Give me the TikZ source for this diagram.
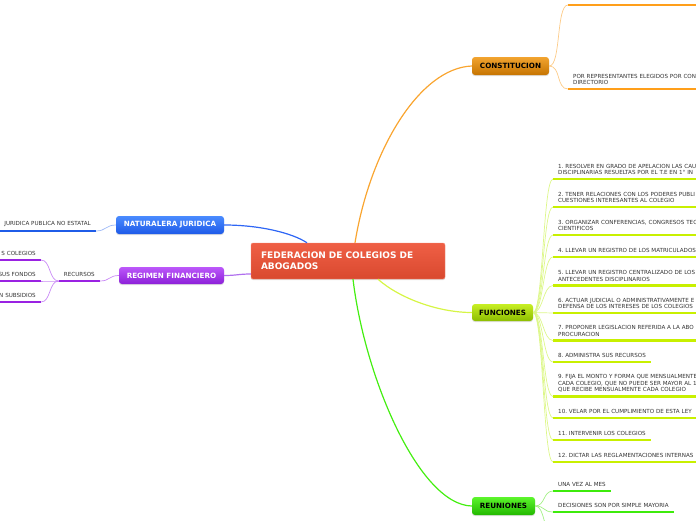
\documentclass[tikz,border=0pt]{standalone}
\usepackage{fontspec}
\setmainfont{DejaVu Sans}
\usetikzlibrary{shadows}

\definecolor{hubtop}{HTML}{EF5F45}
\definecolor{hubbot}{HTML}{D9492F}
\definecolor{hubline}{HTML}{F48A74}
\definecolor{constop}{HTML}{F2A430}
\definecolor{consbot}{HTML}{C67400}
\definecolor{consline}{HTML}{FF9F1A}
\definecolor{conslink}{HTML}{F9A530}
\definecolor{constwig}{HTML}{FCCB88}
\definecolor{nattop}{HTML}{4A8BFF}
\definecolor{natbot}{HTML}{1E5AE8}
\definecolor{natline}{HTML}{1F5CE8}
\definecolor{natlink}{HTML}{2E66F5}
\definecolor{nattwig}{HTML}{9DB8F7}
\definecolor{regtop}{HTML}{BC58FA}
\definecolor{regbot}{HTML}{8C20D8}
\definecolor{regline}{HTML}{9A22E2}
\definecolor{reglink}{HTML}{B070EE}
\definecolor{regtwig}{HTML}{C98AF5}
\definecolor{funtop}{HTML}{C8EF24}
\definecolor{funbot}{HTML}{8CBD00}
\definecolor{funline}{HTML}{C8F000}
\definecolor{funlink}{HTML}{D6F545}
\definecolor{funtwig}{HTML}{DDF78A}
\definecolor{reutop}{HTML}{5CF52C}
\definecolor{reubot}{HTML}{22B800}
\definecolor{reuline}{HTML}{3EEB0C}
\definecolor{reulink}{HTML}{44EE11}
\definecolor{reutwig}{HTML}{A2F084}
\definecolor{leafgray}{HTML}{333333}

\newcommand{\leaffont}{\fontsize{5.6}{6.3}\selectfont\frenchspacing}
\newcommand{\topicfont}{\fontsize{7.2}{8.5}\selectfont\bfseries}
\newcommand{\hubfont}{\fontsize{9}{11}\selectfont\bfseries}

\begin{document}
\begin{tikzpicture}[x=1pt,y=-1pt,
    hub/.style={rounded corners=2pt, top color=hubtop, bottom color=hubbot, draw=hubline, line width=0.4pt,
      text=white, font=\hubfont, align=left, text width=174pt, inner xsep=10pt, minimum height=36pt,
      drop shadow={opacity=0.25,shadow xshift=0pt,shadow yshift=-1.2pt}},
    topic/.style={rounded corners=3pt, inner sep=0pt, minimum height=18pt, font=\topicfont,
      drop shadow={opacity=0.25,shadow xshift=0pt,shadow yshift=-1.2pt}},
    leaf/.style={font=\leaffont, text=leafgray, align=left, anchor=south west,
      inner xsep=5pt, inner ysep=4pt},
    lleaf/.style={leaf, align=right, anchor=south east, text width=150pt},
    wide/.style={text width=300pt},
    under/.style={append after command={(\tikzlastnode.south west) edge[draw=#1, line width=2.4pt] (\tikzlastnode.south east)}},
    link/.style={draw=#1, line width=1.2pt},
    twig/.style={draw=#1, line width=0.7pt}]

    \path[use as bounding box] (0,0) rectangle (696,520);
    \clip (0,0) rectangle (696,520);

    \node[hub] (fed) at (348,261) {FEDERACION DE COLEGIOS DE\\ABOGADOS};

    \node[topic, minimum width=77pt, top color=constop, bottom color=consbot] (cons) at (510.5,66) {CONSTITUCION};
    \node[topic, minimum width=108pt, top color=nattop, bottom color=natbot, text=white] (nat) at (170,225) {NATURALERA JURIDICA};
    \node[topic, minimum width=105pt, minimum height=17pt, top color=regtop, bottom color=regbot, text=white] (reg) at (171.5,275.5) {REGIMEN FINANCIERO};
    \node[topic, minimum width=61pt, minimum height=17pt, top color=funtop, bottom color=funbot] (fun) at (502.5,312.5) {FUNCIONES};
    \node[topic, minimum width=63pt, top color=reutop, bottom color=reubot] (reu) at (503.5,506) {REUNIONES};

    \node[leaf, wide, under=consline] (c1) at (568,5) {};
    \node[leaf, wide, under=consline] (c2) at (568,89) {POR REPRESENTANTES ELEGIDOS POR CON\\DIRECTORIO};

    \node[lleaf, under=natline] (n1) at (96,231) {JURIDICA PUBLICA NO ESTATAL};

    \node[leaf, anchor=south east, under=regline] (rec) at (100,281) {RECURSOS};
    \node[lleaf, under=regline] (p1) at (41,260) {S COLEGIOS};
    \node[lleaf, under=regline] (p2) at (41,281) {SUS FONDOS};
    \node[lleaf, under=regline] (p3) at (41,302) {N SUBSIDIOS};

    \node[leaf, wide, under=funline] (f1) at (553,179) {1. RESOLVER EN GRADO DE APELACION LAS CAU\\DISCIPLINARIAS RESUELTAS POR EL T.E EN 1° IN};
    \node[leaf, wide, under=funline] (f2) at (553,207) {2. TENER RELACIONES CON LOS PODERES PUBLI\\CUESTIONES INTERESANTES AL COLEGIO};
    \node[leaf, wide, under=funline] (f3) at (553,235) {3. ORGANIZAR CONFERENCIAS, CONGRESOS TEC\\CIENTIFICOS};
    \node[leaf, wide, under=funline] (f4) at (553,257) {4. LLEVAR UN REGISTRO DE LOS MATRICULADOS};
    \node[leaf, wide, under=funline] (f5) at (553,285.5) {5. LLEVAR UN REGISTRO CENTRALIZADO DE LOS\\ANTECEDENTES DISCIPLINARIOS};
    \node[leaf, wide, under=funline] (f6) at (553,313) {6. ACTUAR JUDICIAL O ADMINISTRATIVAMENTE E\\DEFENSA DE LOS INTERESES DE LOS COLEGIOS};
    \node[leaf, wide, under=funline] (f7) at (553,340.5) {7. PROPONER LEGISLACION REFERIDA A LA ABO\\PROCURACION};
    \node[leaf, under=funline] (f8) at (553,362) {8. ADMINISTRA SUS RECURSOS};
    \node[leaf, wide, under=funline] (f9) at (553,396.5) {9. FIJA EL MONTO Y FORMA QUE MENSUALMENTE\\CADA COLEGIO, QUE NO PUEDE SER MAYOR AL 1\\QUE RECIBE MENSUALMENTE CADA COLEGIO};
    \node[leaf, wide, under=funline] (f10) at (553,418) {10. VELAR POR EL CUMPLIMIENTO DE ESTA LEY};
    \node[leaf, under=funline] (f11) at (553,440) {11. INTERVENIR LOS COLEGIOS};
    \node[leaf, wide, under=funline] (f12) at (553,462) {12. DICTAR LAS REGLAMENTACIONES INTERNAS};

    \node[leaf, under=reuline] (r1) at (553,491) {UNA VEZ AL MES};
    \node[leaf, under=reuline] (r2) at (553,512) {DECISIONES SON POR SIMPLE MAYORIA};
    \coordinate (r3) at (553,534);

    \draw[link=conslink] ([xshift=7pt]fed.north) .. controls +(15,-93) and +(-52,2) .. (cons.west);
    \draw[link=natlink] (nat.east) .. controls +(35,0) and +(-15,-10) .. ([xshift=-41pt]fed.north);
    \draw[link=reglink] (reg.east) .. controls +(12,0) and +(-12,0) .. ([yshift=-13pt]fed.west);
    \draw[link=funlink] ([xshift=30pt]fed.south) .. controls +(20,18) and +(-35,0) .. (fun.west);
    \draw[link=reulink] ([xshift=5pt]fed.south) .. controls +(12,100) and +(-52,-1) .. (reu.west);

    \draw[twig=constwig] (cons.east) .. controls +(12,0) and +(-12,0) .. (c1.south west);
    \draw[twig=constwig] (cons.east) .. controls +(12,0) and +(-12,0) .. (c2.south west);

    \draw[twig=nattwig] (nat.west) .. controls +(-10,0) and +(10,0) .. (n1.south east);

    \draw[twig=regtwig] (reg.west) .. controls +(-10,0) and +(10,0) .. (rec.south east);
    \draw[twig=regtwig] (rec.south west) .. controls +(-10,0) and +(10,0) .. (p1.south east);
    \draw[twig=regtwig] (rec.south west) .. controls +(-10,0) and +(10,0) .. (p2.south east);
    \draw[twig=regtwig] (rec.south west) .. controls +(-10,0) and +(10,0) .. (p3.south east);

    \draw[twig=funtwig] (fun.east) .. controls +(10,0) and +(-10,0) .. (f1.south west);
    \draw[twig=funtwig] (fun.east) .. controls +(10,0) and +(-10,0) .. (f2.south west);
    \draw[twig=funtwig] (fun.east) .. controls +(10,0) and +(-10,0) .. (f3.south west);
    \draw[twig=funtwig] (fun.east) .. controls +(10,0) and +(-10,0) .. (f4.south west);
    \draw[twig=funtwig] (fun.east) .. controls +(10,0) and +(-10,0) .. (f5.south west);
    \draw[twig=funtwig] (fun.east) .. controls +(10,0) and +(-10,0) .. (f6.south west);
    \draw[twig=funtwig] (fun.east) .. controls +(10,0) and +(-10,0) .. (f7.south west);
    \draw[twig=funtwig] (fun.east) .. controls +(10,0) and +(-10,0) .. (f8.south west);
    \draw[twig=funtwig] (fun.east) .. controls +(10,0) and +(-10,0) .. (f9.south west);
    \draw[twig=funtwig] (fun.east) .. controls +(10,0) and +(-10,0) .. (f10.south west);
    \draw[twig=funtwig] (fun.east) .. controls +(10,0) and +(-10,0) .. (f11.south west);
    \draw[twig=funtwig] (fun.east) .. controls +(10,0) and +(-10,0) .. (f12.south west);

    \draw[twig=reutwig] (reu.east) .. controls +(10,0) and +(-10,0) .. (r1.south west);
    \draw[twig=reutwig] (reu.east) .. controls +(10,0) and +(-10,0) .. (r2.south west);
    \draw[twig=reutwig] (reu.east) .. controls +(10,0) and +(-10,0) .. (r3);
\end{tikzpicture}
\end{document}
